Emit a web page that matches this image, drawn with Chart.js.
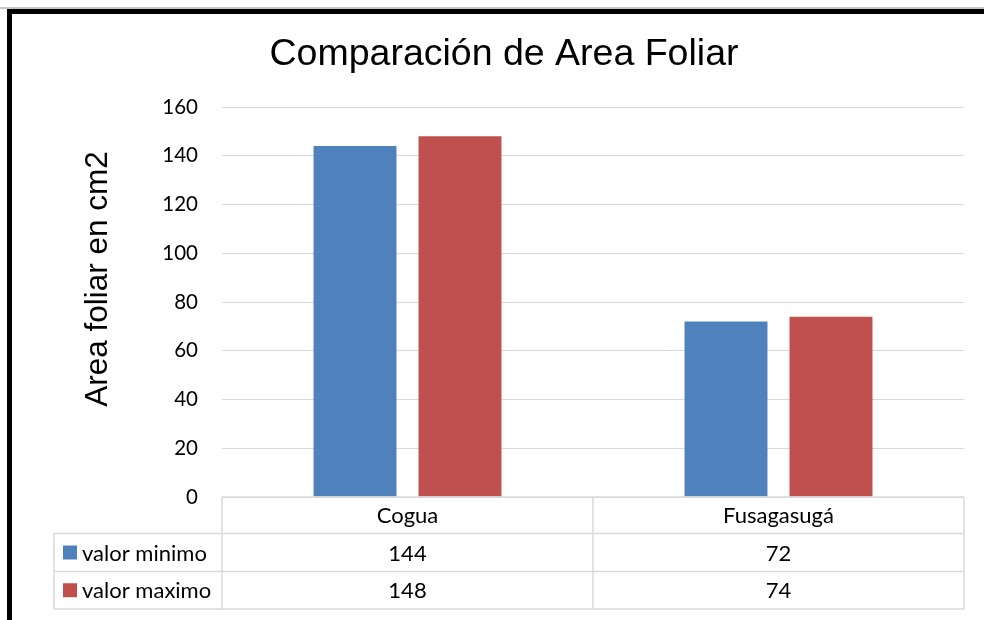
<!DOCTYPE html>
<html>
<head>
<meta charset="utf-8">
<script src="https://cdn.jsdelivr.net/npm/chart.js@4.4.1/dist/chart.umd.min.js"></script>
<style>
  html, body { margin: 0; padding: 0; background: #ffffff; }
  #wrap { position: relative; width: 984px; height: 620px; overflow: hidden; background: #fff; }
  #c { position: absolute; left: 0; top: 0; }
  .gray { position: absolute; left: 0; top: 7px; width: 984px; height: 2px; background: #c8c8c8; }
  .btop { position: absolute; left: 7px; top: 9px; width: 977px; height: 5px; background: #000; }
  .bleft { position: absolute; left: 7px; top: 9px; width: 5px; height: 611px; background: #000; }
</style>
</head>
<body>
<div id="wrap">
  <canvas id="c" width="984" height="620"></canvas>
  <div class="gray"></div>
  <div class="btop"></div>
  <div class="bleft"></div>
</div>
<script>
const chartTitle = 'Comparación de Area Foliar';
const yAxisTitle = 'Area foliar en cm2';
const categories = ['Cogua', 'Fusagasugá'];
const seriesNames = ['valor minimo', 'valor maximo'];
const valorMinimo = [144, 72];
const valorMaximo = [148, 74];
const seriesColors = ['#4f81bd', '#c0504d'];
const yMin = 0, yMax = 160, yStep = 20;

const TABLE_FONT = '22px Lato';
const LINE = '#d9d9d9';

const tablePlugin = {
  id: 'dataTable',
  afterDraw(chart) {
    const ctx = chart.ctx;
    const x = chart.scales.x;
    const area = chart.chartArea;
    const left = area.left, right = area.right;
    const rows = [area.bottom, 533.5, 571.5, 609];
    const labelLeft = 54;
    ctx.save();
    ctx.strokeStyle = LINE;
    ctx.lineWidth = 1.5;
    ctx.beginPath();
    ctx.moveTo(left, rows[0]); ctx.lineTo(right, rows[0]);
    for (let r = 1; r < rows.length; r++) {
      ctx.moveTo(labelLeft, rows[r]); ctx.lineTo(right, rows[r]);
    }
    const half = (right - left) / categories.length / 2;
    const bounds = [left];
    categories.forEach((c, i) => bounds.push(x.getPixelForValue(i) + half));
    bounds.forEach(b => { ctx.moveTo(b, rows[0]); ctx.lineTo(b, rows[3]); });
    ctx.moveTo(labelLeft, rows[1]); ctx.lineTo(labelLeft, rows[3]);
    ctx.stroke();

    ctx.fillStyle = '#000';
    ctx.font = TABLE_FONT;
    ctx.textBaseline = 'middle';
    ctx.textAlign = 'center';
    const data = [valorMinimo, valorMaximo];
    categories.forEach((c, i) => {
      const cx = x.getPixelForValue(i);
      ctx.fillText(c, cx, (rows[0] + rows[1]) / 2 + 1);
      data.forEach((d, s) => {
        ctx.fillText(String(d[i]), cx, (rows[s + 1] + rows[s + 2]) / 2 + 1);
      });
    });
    ctx.textAlign = 'left';
    seriesNames.forEach((n, s) => {
      const cy = (rows[s + 1] + rows[s + 2]) / 2;
      ctx.fillStyle = seriesColors[s];
      ctx.fillRect(63, cy - 7, 14, 14);
      ctx.fillStyle = '#000';
      ctx.fillText(n, 82, cy + 1);
    });
    ctx.translate(98, 279);
    ctx.rotate(-Math.PI / 2);
    ctx.font = '31.5px "Liberation Sans"';
    ctx.textAlign = 'center';
    ctx.fillText(yAxisTitle, 0, 0);
    ctx.restore();
  }
};

const bgPlugin = {
  id: 'bg',
  beforeDraw(chart) {
    const ctx = chart.ctx;
    ctx.save();
    ctx.fillStyle = '#fff';
    ctx.fillRect(0, 0, chart.width, chart.height);
    ctx.restore();
  }
};

new Chart(document.getElementById('c'), {
  type: 'bar',
  data: {
    labels: categories,
    datasets: [
      { label: seriesNames[0], data: valorMinimo, backgroundColor: seriesColors[0] },
      { label: seriesNames[1], data: valorMaximo, backgroundColor: seriesColors[1] }
    ]
  },
  options: {
    responsive: false,
    animation: false,
    devicePixelRatio: 1,
    categoryPercentage: 0.566,
    barPercentage: 0.79,
    layout: { padding: { left: 44, right: 20, top: 0, bottom: 0 } },
    plugins: {
      legend: { display: false },
      tooltip: { enabled: false },
      title: {
        display: true,
        text: chartTitle,
        color: '#000',
        font: { family: '"Liberation Sans"', size: 37.5, weight: 'normal', lineHeight: 1.2 },
        padding: { top: 32, bottom: 30 }
      }
    },
    scales: {
      x: {
        ticks: { display: false },
        grid: { display: false },
        border: { display: false },
        afterFit(s) { s.height = 123; }
      },
      y: {
        min: yMin, max: yMax,
        ticks: { stepSize: yStep, color: '#000', padding: 24, font: { family: 'Lato', size: 20.5 } },
        grid: { color: LINE, drawTicks: false, lineWidth: 1 },
        border: { display: false },
        afterFit(s) { s.width = 178; }
      }
    }
  },
  plugins: [bgPlugin, tablePlugin]
});
</script>
</body>
</html>
